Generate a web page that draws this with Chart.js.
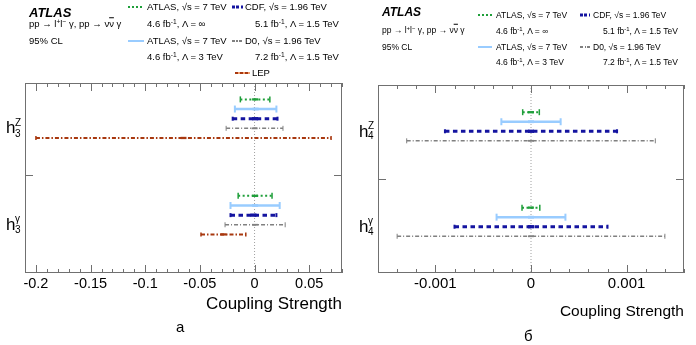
<!DOCTYPE html>
<html>
<head>
<meta charset="utf-8">
<script src="https://cdn.jsdelivr.net/npm/chart.js@4/dist/chart.umd.min.js"></script>
<style>
body { margin: 0; background: #fff; }
#fig { position: relative; width: 696px; height: 345px; overflow: hidden; font-family: "Liberation Sans", Arial, sans-serif; color: #000; }
#fig canvas { position: absolute; top: 0; }
.t { position: absolute; white-space: nowrap; line-height: 1; transform: translateY(-50%); }
.sw { position: absolute; transform: translateY(-50%); }
.s9 { font-size: 9.5px; }
.s8 { font-size: 8.5px; }
sup { font-size: 70%; vertical-align: 0.5em; line-height: 0; }
.ov { text-decoration: overline; }
</style>
</head>
<body>
<div id="fig">
  <canvas id="chartA" width="350" height="345" style="left:0"></canvas>
  <canvas id="chartB" width="346" height="345" style="left:350px"></canvas>

  <!-- panel a header -->
  <div class="t" style="left:29px;top:12px;font-size:13px;font-weight:bold;font-style:italic">ATLAS</div>
  <div class="t s9" style="left:29px;top:24px">pp → l<sup>+</sup>l<sup>−</sup> γ, pp → ν<span class="ov">ν</span> γ</div>
  <div class="t s9" style="left:29px;top:41px">95% CL</div>

  <div class="sw" style="left:128px;top:7px;width:16px;height:2px;background:repeating-linear-gradient(90deg,#1f9f3a 0 2px,transparent 2px 4px)"></div>
  <div class="t s9" style="left:147px;top:7px">ATLAS, √s = 7 TeV</div>
  <div class="t s9" style="left:147px;top:24px">4.6 fb<sup>-1</sup>,  Λ = ∞</div>
  <div class="sw" style="left:128px;top:41px;width:16px;height:2px;background:#99ccff"></div>
  <div class="t s9" style="left:147px;top:41px">ATLAS, √s = 7 TeV</div>
  <div class="t s9" style="left:147px;top:57px">4.6 fb<sup>-1</sup>,  Λ = 3 TeV</div>

  <div class="sw" style="left:232px;top:7px;width:11px;height:3px;background:repeating-linear-gradient(90deg,#1414a0 0 3px,transparent 3px 4.5px)"></div>
  <div class="t s9" style="left:245px;top:7px">CDF, √s = 1.96 TeV</div>
  <div class="t s9" style="left:255px;top:24px">5.1 fb<sup>-1</sup>,  Λ = 1.5 TeV</div>
  <div class="sw" style="left:232px;top:41px;width:11px;height:2px;background:repeating-linear-gradient(90deg,#808080 0 3px,transparent 3px 4.5px,#808080 4.5px 5.5px,transparent 5.5px 7px)"></div>
  <div class="t s9" style="left:245px;top:41px">D0, √s = 1.96 TeV</div>
  <div class="t s9" style="left:255px;top:57px">7.2 fb<sup>-1</sup>,  Λ = 1.5 TeV</div>
  <div class="sw" style="left:235px;top:73px;width:15px;height:2px;background:repeating-linear-gradient(90deg,#a8380f 0 3px,#f2a070 3px 5px)"></div>
  <div class="t s9" style="left:252px;top:73px">LEP</div>

  <!-- panel b header -->
  <div class="t" style="left:382px;top:12px;font-size:12px;font-weight:bold;font-style:italic">ATLAS</div>
  <div class="t s8" style="left:382px;top:30px">pp → l<sup>+</sup>l<sup>−</sup> γ, pp → ν<span class="ov">ν</span> γ</div>
  <div class="t s8" style="left:382px;top:47px">95% CL</div>

  <div class="sw" style="left:478px;top:15px;width:14px;height:2px;background:repeating-linear-gradient(90deg,#1f9f3a 0 2px,transparent 2px 4px)"></div>
  <div class="t s8" style="left:496px;top:15px">ATLAS, √s = 7 TeV</div>
  <div class="t s8" style="left:496px;top:31px">4.6 fb<sup>-1</sup>,  Λ = ∞</div>
  <div class="sw" style="left:478px;top:47px;width:14px;height:2px;background:#99ccff"></div>
  <div class="t s8" style="left:496px;top:47px">ATLAS, √s = 7 TeV</div>
  <div class="t s8" style="left:496px;top:62px">4.6 fb<sup>-1</sup>,  Λ = 3 TeV</div>

  <div class="sw" style="left:580px;top:15px;width:10px;height:3px;background:repeating-linear-gradient(90deg,#1414a0 0 3px,transparent 3px 4.5px)"></div>
  <div class="t s8" style="left:593px;top:15px">CDF, √s = 1.96 TeV</div>
  <div class="t s8" style="left:603px;top:31px">5.1 fb<sup>-1</sup>,  Λ = 1.5 TeV</div>
  <div class="sw" style="left:580px;top:47px;width:10px;height:2px;background:repeating-linear-gradient(90deg,#808080 0 3px,transparent 3px 4.5px,#808080 4.5px 5.5px,transparent 5.5px 7px)"></div>
  <div class="t s8" style="left:593px;top:47px">D0, √s = 1.96 TeV</div>
  <div class="t s8" style="left:603px;top:62px">7.2 fb<sup>-1</sup>,  Λ = 1.5 TeV</div>

  <!-- y labels -->
  <div class="t" style="left:6px;top:127px;font-size:17px">h</div>
  <div class="t" style="left:15px;top:123px;font-size:10px">Z</div>
  <div class="t" style="left:15px;top:134px;font-size:10px">3</div>
  <div class="t" style="left:6px;top:224px;font-size:17px">h</div>
  <div class="t" style="left:15px;top:219px;font-size:10px">γ</div>
  <div class="t" style="left:15px;top:230px;font-size:10px">3</div>

  <div class="t" style="left:359px;top:131px;font-size:17px">h</div>
  <div class="t" style="left:368px;top:126px;font-size:10px">Z</div>
  <div class="t" style="left:368px;top:136px;font-size:10px">4</div>
  <div class="t" style="left:359px;top:226px;font-size:17px">h</div>
  <div class="t" style="left:368px;top:221px;font-size:10px">γ</div>
  <div class="t" style="left:368px;top:232px;font-size:10px">4</div>

  <!-- axis titles and panel letters -->
  <div class="t" style="right:354px;top:303px;font-size:17px">Coupling Strength</div>
  <div class="t" style="right:12px;top:311px;font-size:15.5px">Coupling Strength</div>
  <div class="t" style="left:176px;top:326px;font-size:15px">a</div>
  <div class="t" style="left:524px;top:335px;font-size:15px">б</div>
</div>

<script>
// series order: ATLAS Λ=∞, ATLAS Λ=3 TeV, CDF, D0, LEP
const h3Z_lo = [-0.013, -0.018, -0.020, -0.026, -0.20];
const h3Z_hi = [0.014, 0.020, 0.021, 0.026, 0.07];
const h3g_lo = [-0.015, -0.022, -0.022, -0.027, -0.049];
const h3g_hi = [0.016, 0.023, 0.020, 0.028, -0.008];

const h4Z_lo = [-0.000087, -0.00031, -0.0009, -0.0013];
const h4Z_hi = [0.000087, 0.00031, 0.0009, 0.0013];
const h4g_lo = [-0.000094, -0.00036, -0.0008, -0.0014];
const h4g_hi = [0.000092, 0.00036, 0.0008, 0.0014];

const ticksA = [-0.2, -0.15, -0.1, -0.05, 0, 0.05];
const ticksB = [-0.001, 0, 0.001];

const FONT = '"Liberation Sans", Arial, sans-serif';
const YMAX = 19.7;
const GROUP_GAP = 10;

const STYLES = [
    { color: '#1f9f3a', width: 2, dash: [2, 2.5], cap: 3, capW: 1.5 },
    { color: '#99ccff', width: 2.5, dash: [], cap: 3.5, capW: 2 },
    { color: '#1414a0', width: 3, dash: [4.5, 3.5], cap: 2, capW: 2 },
    { color: '#808080', width: 1.5, dash: [4, 2, 1, 2], cap: 2.5, capW: 1 },
    { color: '#a8380f', width: 2, dash: [4, 2, 1.5, 2], cap: 2, capW: 1.5 },
];

function buildDatasets(groups, rowStart) {
    const ds = [];
    groups.forEach(([lo, hi], gi) => {
        lo.forEach((l, i) => {
            const st = STYLES[i];
            const y = rowStart + gi * GROUP_GAP + i;
            ds.push({
                data: [{ x: l, y }, { x: (l + hi[i]) / 2, y }, { x: hi[i], y }],
                showLine: true,
                borderColor: st.color,
                borderWidth: st.width,
                borderDash: st.dash,
                pointStyle: 'line',
                pointRotation: [90, 0, 90],
                pointRadius: [st.cap, 3, st.cap],
                pointBorderColor: st.color,
                pointBorderWidth: [st.capW, st.width + 0.3, st.capW],
                pointHoverRadius: 0,
            });
        });
    });
    // dotted line at zero, drawn underneath
    ds.push({
        data: [{ x: 0, y: 0 }, { x: 0, y: YMAX }],
        showLine: true,
        borderColor: '#a0a0a0',
        borderWidth: 1,
        borderDash: [1, 2],
        pointRadius: 0,
    });
    return ds;
}

const framePlugin = {
    id: 'frame',
    afterDatasetsDraw(chart, args, o) {
        const { ctx, chartArea: a, scales: { x, y } } = chart;
        ctx.save();
        ctx.strokeStyle = '#707070';
        ctx.lineWidth = 1;
        ctx.strokeRect(Math.round(a.left) + 0.5, Math.round(a.top) + 0.5, Math.round(a.width) - 1, Math.round(a.height) - 1);
        ctx.beginPath();
        const n0 = Math.ceil(x.min / o.minor - 1e-6);
        const n1 = Math.floor(x.max / o.minor + 1e-6);
        for (let k = n0; k <= n1; k++) {
            const v = k * o.minor;
            const r = v / o.major;
            const len = Math.abs(r - Math.round(r)) < 1e-6 ? 8 : 4;
            const px = Math.round(x.getPixelForValue(v)) + 0.5;
            ctx.moveTo(px, a.bottom);
            ctx.lineTo(px, a.bottom - len);
            ctx.moveTo(px, a.top);
            ctx.lineTo(px, a.top + len);
        }
        const py = Math.round(y.getPixelForValue(o.mid)) + 0.5;
        ctx.moveTo(a.left, py);
        ctx.lineTo(a.left + 8, py);
        ctx.moveTo(a.right, py);
        ctx.lineTo(a.right - 8, py);
        ctx.stroke();
        ctx.restore();
    },
};

function makeChart(id, datasets, xmin, xmax, ticks, padding, fontSize, frame) {
    return new Chart(document.getElementById(id), {
        type: 'scatter',
        data: { datasets },
        options: {
            responsive: false,
            animation: false,
            events: [],
            layout: { padding },
            plugins: { legend: { display: false }, tooltip: { enabled: false }, frame },
            scales: {
                x: {
                    type: 'linear',
                    min: xmin,
                    max: xmax,
                    grid: { display: false, drawTicks: false },
                    border: { display: false },
                    afterBuildTicks: (s) => { s.ticks = ticks.map((v) => ({ value: v })); },
                    afterFit: (s) => { s.height = 27; },
                    ticks: {
                        color: '#000',
                        font: { family: FONT, size: fontSize },
                        padding: 2,
                        maxRotation: 0,
                        autoSkip: false,
                        callback: (v) => String(v),
                    },
                },
                y: { type: 'linear', min: 0, max: YMAX, reverse: true, display: false },
            },
        },
        plugins: [framePlugin],
    });
}

makeChart('chartA',
    buildDatasets([[h3Z_lo, h3Z_hi], [h3g_lo, h3g_hi]], 1.7),
    -0.21, 0.08, ticksA,
    { left: 25, right: 8, top: 83, bottom: 45 }, 14.5,
    { minor: 0.01, major: 0.05, mid: 9.55 });

makeChart('chartB',
    buildDatasets([[h4Z_lo, h4Z_hi], [h4g_lo, h4g_hi]], 2.85),
    -0.0016, 0.0016, ticksB,
    { left: 28, right: 12, top: 85, bottom: 45 }, 15,
    { minor: 0.0002, major: 0.001, mid: 9.85 });
</script>
</body>
</html>
